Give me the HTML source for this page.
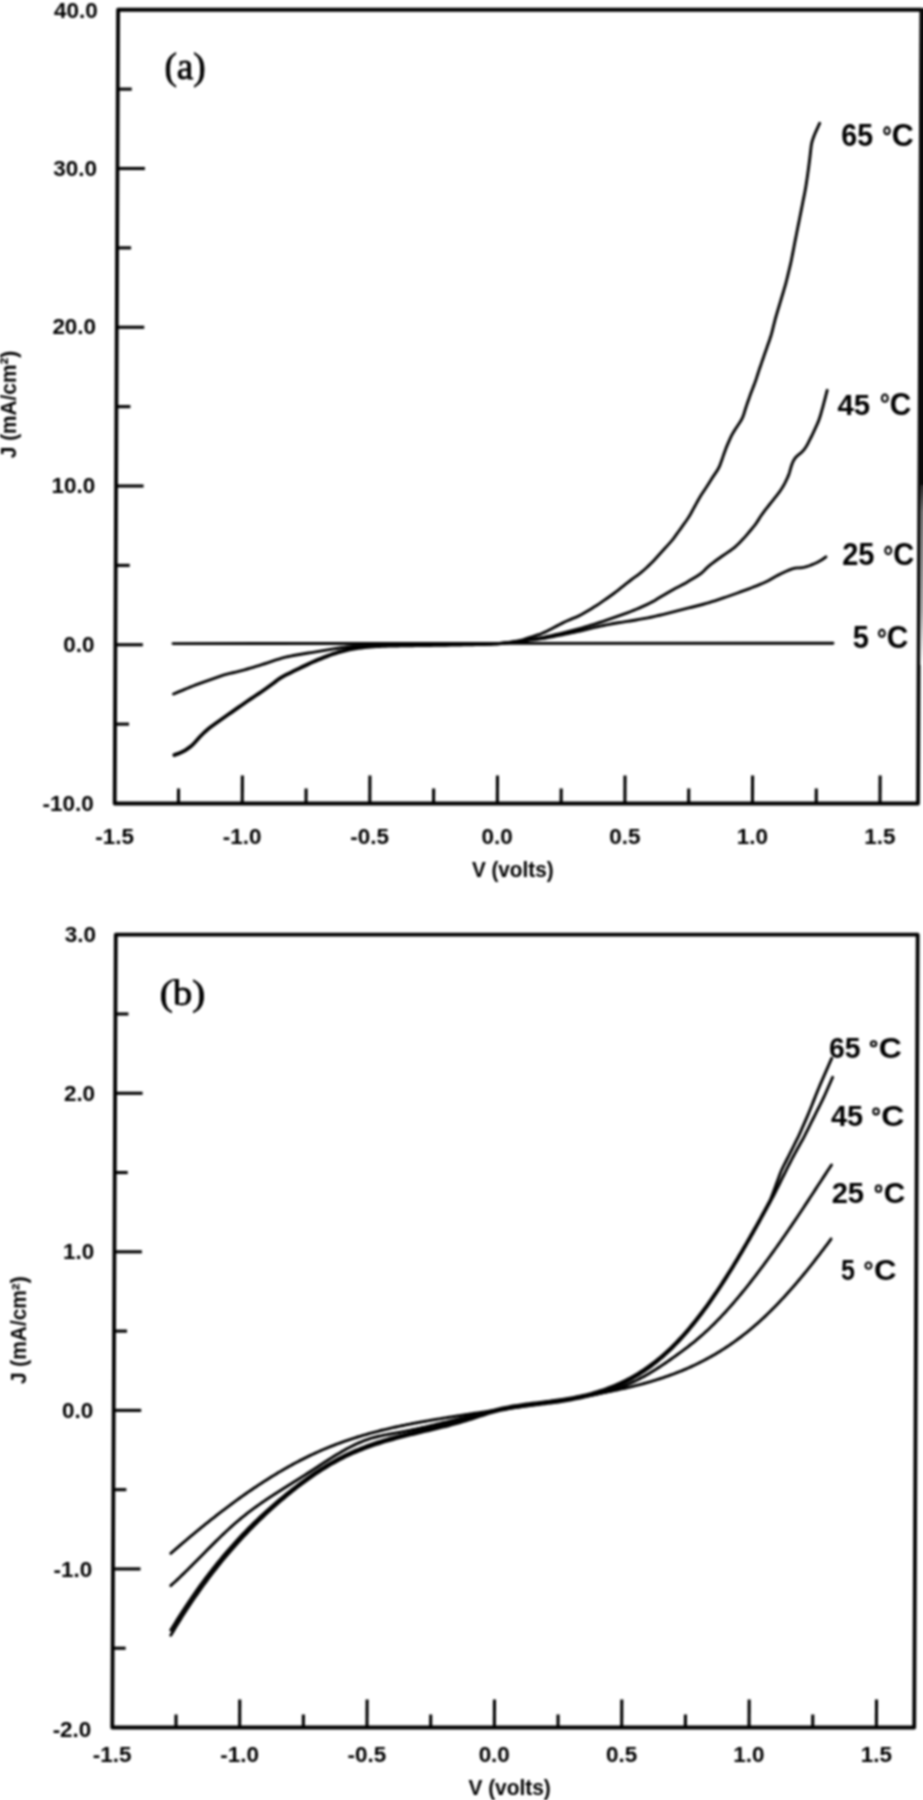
<!DOCTYPE html>
<html><head><meta charset="utf-8"><title>J-V curves</title>
<style>
html,body{margin:0;padding:0;background:#fff;}
body{width:923px;height:1800px;overflow:hidden;}
#clip{width:923px;height:1800px;overflow:hidden;position:relative;}
svg{display:block;}
#wrap{width:940px;height:1820px;filter:grayscale(1) blur(0.8px);}
text{font-family:"Liberation Sans",sans-serif;fill:#000;}
</style></head>
<body>
<div id="clip">
<div id="wrap">
<svg width="940" height="1820" viewBox="0 0 940 1820">
<rect width="940" height="1820" fill="#fff"/>
<g stroke="#000" stroke-linecap="butt" fill="none">
<polygon points="118.11,9.75 921.41,9.75 918.00,803.50 114.70,803.50" fill="none" stroke-width="3.8" stroke-linejoin="round"/>
<line x1="117.43" y1="168.50" x2="144.93" y2="168.50" stroke-width="3.1"/>
<line x1="116.75" y1="327.25" x2="144.25" y2="327.25" stroke-width="3.1"/>
<line x1="116.07" y1="486.00" x2="143.57" y2="486.00" stroke-width="3.1"/>
<line x1="115.38" y1="644.75" x2="142.88" y2="644.75" stroke-width="3.1"/>
<line x1="117.77" y1="89.12" x2="131.77" y2="89.12" stroke-width="3.1"/>
<line x1="117.09" y1="247.88" x2="131.09" y2="247.88" stroke-width="3.1"/>
<line x1="116.41" y1="406.62" x2="130.41" y2="406.62" stroke-width="3.1"/>
<line x1="115.72" y1="565.38" x2="129.72" y2="565.38" stroke-width="3.1"/>
<line x1="115.04" y1="724.12" x2="129.04" y2="724.12" stroke-width="3.1"/>
<line x1="242.25" y1="803.50" x2="242.37" y2="775.50" stroke-width="3.1"/>
<line x1="369.80" y1="803.50" x2="369.92" y2="775.50" stroke-width="3.1"/>
<line x1="497.35" y1="803.50" x2="497.47" y2="775.50" stroke-width="3.1"/>
<line x1="624.90" y1="803.50" x2="625.02" y2="775.50" stroke-width="3.1"/>
<line x1="752.45" y1="803.50" x2="752.57" y2="775.50" stroke-width="3.1"/>
<line x1="880.00" y1="803.50" x2="880.12" y2="775.50" stroke-width="3.1"/>
<line x1="178.47" y1="803.50" x2="178.54" y2="788.50" stroke-width="3.1"/>
<line x1="306.02" y1="803.50" x2="306.09" y2="788.50" stroke-width="3.1"/>
<line x1="433.57" y1="803.50" x2="433.64" y2="788.50" stroke-width="3.1"/>
<line x1="561.12" y1="803.50" x2="561.19" y2="788.50" stroke-width="3.1"/>
<line x1="688.68" y1="803.50" x2="688.74" y2="788.50" stroke-width="3.1"/>
<line x1="816.23" y1="803.50" x2="816.29" y2="788.50" stroke-width="3.1"/>
<defs><linearGradient id="rg" x1="0" y1="0" x2="0" y2="1"><stop offset="0" stop-color="#2a2a2a"/><stop offset="0.15" stop-color="#777"/><stop offset="0.7" stop-color="#b0b0b0"/><stop offset="1" stop-color="#fff"/></linearGradient></defs>
<polygon points="920.0,8 930,8 930,485 918.6,485 919.6,100" fill="#0a0a0a" stroke="none"/>
<rect x="920.2" y="485" width="9.8" height="180" fill="url(#rg)" stroke="none"/>
<polygon points="115.79,934.70 917.69,934.70 914.20,1727.50 112.30,1727.50" fill="none" stroke-width="3.8" stroke-linejoin="round"/>
<line x1="115.09" y1="1093.26" x2="142.59" y2="1093.26" stroke-width="3.1"/>
<line x1="114.39" y1="1251.82" x2="141.89" y2="1251.82" stroke-width="3.1"/>
<line x1="113.70" y1="1410.38" x2="141.20" y2="1410.38" stroke-width="3.1"/>
<line x1="113.00" y1="1568.94" x2="140.50" y2="1568.94" stroke-width="3.1"/>
<line x1="115.44" y1="1013.98" x2="128.44" y2="1013.98" stroke-width="3.1"/>
<line x1="114.74" y1="1172.54" x2="127.74" y2="1172.54" stroke-width="3.1"/>
<line x1="114.04" y1="1331.10" x2="127.04" y2="1331.10" stroke-width="3.1"/>
<line x1="113.35" y1="1489.66" x2="126.35" y2="1489.66" stroke-width="3.1"/>
<line x1="112.65" y1="1648.22" x2="125.65" y2="1648.22" stroke-width="3.1"/>
<line x1="239.65" y1="1727.50" x2="239.77" y2="1699.50" stroke-width="3.1"/>
<line x1="367.00" y1="1727.50" x2="367.12" y2="1699.50" stroke-width="3.1"/>
<line x1="494.35" y1="1727.50" x2="494.47" y2="1699.50" stroke-width="3.1"/>
<line x1="621.70" y1="1727.50" x2="621.82" y2="1699.50" stroke-width="3.1"/>
<line x1="749.05" y1="1727.50" x2="749.17" y2="1699.50" stroke-width="3.1"/>
<line x1="876.40" y1="1727.50" x2="876.52" y2="1699.50" stroke-width="3.1"/>
<line x1="175.97" y1="1727.50" x2="176.03" y2="1714.50" stroke-width="3.1"/>
<line x1="303.32" y1="1727.50" x2="303.38" y2="1714.50" stroke-width="3.1"/>
<line x1="430.68" y1="1727.50" x2="430.73" y2="1714.50" stroke-width="3.1"/>
<line x1="558.02" y1="1727.50" x2="558.08" y2="1714.50" stroke-width="3.1"/>
<line x1="685.37" y1="1727.50" x2="685.43" y2="1714.50" stroke-width="3.1"/>
<line x1="812.72" y1="1727.50" x2="812.78" y2="1714.50" stroke-width="3.1"/>
</g>
<g stroke="#000" fill="none" stroke-linecap="round" stroke-linejoin="round">
<path d="M173.00,643.60 L833.00,643.20" fill="none" stroke-width="2.9"/>
<path d="M173.50,694.00 L176.27,692.85 L179.05,691.69 L181.83,690.54 L184.60,689.40 L187.39,688.26 L190.17,687.14 L192.96,686.02 L195.76,684.92 L198.56,683.84 L201.38,682.79 L204.20,681.77 L207.03,680.76 L209.87,679.76 L212.70,678.77 L215.54,677.78 L218.38,676.81 L221.23,675.86 L224.10,674.97 L226.99,674.17 L229.90,673.44 L232.82,672.75 L235.75,672.06 L238.66,671.34 L241.57,670.58 L244.47,669.80 L247.36,668.99 L250.25,668.16 L253.13,667.32 L256.01,666.45 L258.88,665.57 L261.75,664.67 L264.61,663.75 L267.47,662.81 L270.32,661.87 L273.17,660.91 L276.02,659.97 L278.89,659.07 L281.77,658.22 L284.66,657.44 L287.58,656.71 L290.51,656.07 L293.45,655.49 L296.41,654.98 L299.38,654.48 L302.34,654.00 L305.31,653.52 L308.27,653.04 L311.24,652.56 L314.21,652.07 L317.17,651.59 L320.14,651.10 L323.10,650.61 L326.07,650.12 L329.03,649.63 L332.00,649.14 L334.96,648.66 L337.93,648.20 L340.90,647.77 L343.88,647.39 L346.87,647.04 L349.85,646.71 L352.84,646.39 L355.83,646.10 L358.82,645.85 L361.82,645.68 L364.82,645.58 L367.82,645.53 L370.83,645.49 L373.83,645.46 L376.84,645.43 L379.84,645.40 L382.84,645.37 L385.85,645.34 L388.85,645.31 L391.86,645.28 L394.86,645.25 L397.87,645.22 L400.87,645.19 L403.88,645.16 L406.88,645.13 L409.89,645.10 L412.89,645.07 L415.90,645.04 L418.90,645.01 L421.91,644.98 L424.91,644.95 L427.92,644.92 L430.92,644.89 L433.92,644.86 L436.93,644.83 L439.93,644.80 L442.94,644.77 L445.94,644.74 L448.95,644.70 L451.95,644.66 L454.96,644.62 L457.96,644.58 L460.97,644.53 L463.97,644.48 L466.98,644.44 L469.98,644.39 L472.98,644.34 L475.99,644.30 L478.99,644.25 L482.00,644.20 L485.00,644.15 L488.01,644.10 L491.01,644.02 L494.01,643.89 L497.00,643.69 L499.99,643.42 L502.98,643.12 L505.97,642.79 L508.96,642.46 L511.94,642.13 L514.93,641.80 L517.92,641.47 L520.90,641.13 L523.89,640.79 L526.87,640.46 L529.86,640.12 L532.84,639.78 L535.83,639.44 L538.81,639.07 L541.79,638.67 L544.75,638.20 L547.71,637.67 L550.66,637.10 L553.60,636.51 L556.55,635.91 L559.49,635.32 L562.44,634.72 L565.38,634.12 L568.32,633.51 L571.27,632.90 L574.21,632.29 L577.15,631.66 L580.08,631.00 L583.00,630.31 L585.92,629.59 L588.83,628.85 L591.75,628.12 L594.66,627.41 L597.59,626.74 L600.53,626.10 L603.47,625.50 L606.42,624.92 L609.37,624.35 L612.32,623.80 L615.28,623.28 L618.25,622.79 L621.21,622.33 L624.18,621.87 L627.15,621.42 L630.12,620.95 L633.09,620.47 L636.05,619.96 L639.01,619.44 L641.97,618.91 L644.92,618.37 L647.87,617.80 L650.82,617.21 L653.75,616.58 L656.69,615.92 L659.61,615.24 L662.54,614.55 L665.45,613.83 L668.37,613.10 L671.28,612.36 L674.19,611.62 L677.11,610.88 L680.02,610.14 L682.93,609.40 L685.85,608.67 L688.76,607.94 L691.68,607.22 L694.59,606.49 L697.51,605.76 L700.42,605.02 L703.32,604.25 L706.22,603.44 L709.10,602.59 L711.97,601.71 L714.83,600.81 L717.70,599.89 L720.55,598.95 L723.39,597.98 L726.23,597.00 L729.07,596.00 L731.90,595.00 L734.73,594.00 L737.57,593.00 L740.39,591.98 L743.22,590.95 L746.03,589.90 L748.84,588.83 L751.64,587.75 L754.44,586.66 L757.24,585.56 L760.02,584.44 L762.79,583.27 L765.52,582.04 L768.20,580.69 L770.81,579.23 L773.40,577.72 L776.00,576.24 L778.66,574.85 L781.36,573.56 L784.08,572.30 L786.79,571.03 L789.48,569.81 L792.19,568.80 L794.98,568.18 L797.83,567.92 L800.74,567.74 L803.65,567.38 L806.51,566.71 L809.32,565.75 L812.09,564.64 L814.85,563.47 L817.56,562.23 L820.19,560.84 L822.69,559.25 L825.11,557.50 L825.90,556.90" fill="none" stroke-width="2.9"/>
<path d="M174.00,755.60 L176.83,754.57 L179.64,753.52 L182.39,752.35 L185.01,750.93 L187.51,749.28 L189.94,747.53 L192.25,745.63 L194.37,743.52 L196.36,741.28 L198.36,739.03 L200.40,736.83 L202.49,734.68 L204.65,732.58 L206.88,730.58 L209.20,728.67 L211.57,726.82 L213.99,725.04 L216.44,723.29 L218.90,721.57 L221.37,719.84 L223.83,718.12 L226.29,716.39 L228.76,714.67 L231.22,712.95 L233.68,711.22 L236.15,709.50 L238.62,707.78 L241.09,706.06 L243.56,704.35 L246.03,702.64 L248.51,700.93 L250.99,699.24 L253.49,697.56 L255.99,695.90 L258.50,694.24 L261.00,692.57 L263.49,690.88 L265.94,689.14 L268.37,687.37 L270.79,685.59 L273.21,683.80 L275.61,681.99 L278.00,680.17 L280.44,678.46 L283.02,676.95 L285.69,675.58 L288.38,674.23 L291.07,672.89 L293.77,671.56 L296.47,670.23 L299.18,668.93 L301.89,667.64 L304.61,666.35 L307.33,665.07 L310.05,663.79 L312.78,662.53 L315.53,661.32 L318.31,660.17 L321.10,659.05 L323.89,657.93 L326.69,656.82 L329.49,655.73 L332.32,654.72 L335.18,653.80 L338.06,652.95 L340.95,652.11 L343.84,651.28 L346.74,650.49 L349.66,649.79 L352.61,649.25 L355.58,648.80 L358.56,648.37 L361.53,647.95 L364.51,647.55 L367.50,647.23 L370.50,646.99 L373.50,646.81 L376.50,646.63 L379.50,646.46 L382.50,646.31 L385.51,646.20 L388.51,646.13 L391.52,646.07 L394.53,646.02 L397.53,645.97 L400.54,645.92 L403.55,645.87 L406.55,645.82 L409.56,645.77 L412.57,645.72 L415.57,645.67 L418.58,645.62 L421.59,645.58 L424.59,645.53 L427.60,645.49 L430.61,645.44 L433.62,645.40 L436.62,645.35 L439.63,645.31 L442.64,645.26 L445.64,645.22 L448.65,645.17 L451.66,645.13 L454.66,645.08 L457.67,645.03 L460.68,644.98 L463.68,644.91 L466.69,644.85 L469.70,644.78 L472.70,644.71 L475.71,644.64 L478.71,644.57 L481.72,644.50 L484.73,644.43 L487.73,644.37 L490.74,644.29 L493.74,644.17 L496.74,643.97 L499.73,643.69 L502.72,643.38 L505.71,643.06 L508.70,642.72 L511.68,642.35 L514.66,641.91 L517.63,641.45 L520.60,640.98 L523.57,640.52 L526.54,640.05 L529.51,639.58 L532.48,639.11 L535.45,638.64 L538.42,638.17 L541.39,637.67 L544.34,637.12 L547.28,636.49 L550.22,635.84 L553.15,635.18 L556.08,634.51 L559.02,633.85 L561.95,633.18 L564.87,632.48 L567.79,631.75 L570.70,630.98 L573.60,630.21 L576.51,629.43 L579.40,628.63 L582.29,627.80 L585.18,626.94 L588.06,626.08 L590.94,625.21 L593.81,624.34 L596.68,623.44 L599.54,622.50 L602.38,621.52 L605.22,620.52 L608.06,619.53 L610.89,618.53 L613.73,617.54 L616.57,616.54 L619.41,615.54 L622.24,614.54 L625.08,613.54 L627.91,612.54 L630.73,611.50 L633.53,610.41 L636.31,609.26 L639.07,608.07 L641.83,606.86 L644.57,605.62 L647.30,604.37 L650.00,603.06 L652.65,601.64 L655.25,600.14 L657.84,598.60 L660.42,597.06 L663.00,595.52 L665.58,593.97 L668.15,592.42 L670.75,590.90 L673.37,589.43 L676.04,588.04 L678.72,586.69 L681.39,585.32 L684.04,583.89 L686.65,582.39 L689.23,580.86 L691.81,579.32 L694.38,577.76 L696.94,576.17 L699.46,574.55 L701.87,572.79 L704.05,570.78 L706.10,568.61 L708.24,566.53 L710.54,564.61 L712.92,562.78 L715.34,560.99 L717.78,559.24 L720.24,557.51 L722.70,555.79 L725.18,554.07 L727.66,552.37 L730.14,550.68 L732.59,548.94 L734.92,547.07 L737.13,545.04 L739.27,542.93 L741.38,540.79 L743.46,538.62 L745.46,536.38 L747.41,534.09 L749.35,531.79 L751.28,529.49 L753.20,527.17 L755.06,524.82 L756.80,522.37 L758.43,519.85 L760.04,517.32 L761.70,514.81 L763.46,512.38 L765.29,509.99 L767.13,507.62 L768.98,505.25 L770.84,502.88 L772.71,500.53 L774.59,498.18 L776.46,495.82 L778.31,493.45 L780.07,491.03 L781.74,488.53 L783.29,485.96 L784.73,483.32 L786.10,480.64 L787.41,477.94 L788.58,475.19 L789.54,472.35 L790.37,469.47 L791.19,466.58 L792.14,463.74 L793.33,461.01 L794.83,458.48 L796.75,456.30 L799.02,454.42 L801.32,452.53 L803.39,450.41 L805.22,448.06 L806.82,445.53 L808.24,442.89 L809.59,440.21 L810.94,437.52 L812.26,434.82 L813.55,432.10 L814.82,429.38 L816.08,426.65 L817.33,423.91 L818.50,421.15 L819.52,418.33 L820.40,415.46 L821.23,412.57 L822.05,409.67 L822.86,406.78 L823.65,403.88 L824.42,400.97 L825.18,398.06 L825.94,395.15 L826.70,392.24 L827.20,390.30" fill="none" stroke-width="2.9"/>
<path d="M174.00,754.60 L176.83,753.58 L179.64,752.53 L182.39,751.35 L185.00,749.93 L187.50,748.29 L189.93,746.53 L192.24,744.64 L194.36,742.53 L196.35,740.30 L198.34,738.05 L200.38,735.84 L202.48,733.69 L204.63,731.59 L206.86,729.59 L209.18,727.68 L211.55,725.84 L213.97,724.05 L216.42,722.31 L218.88,720.59 L221.34,718.86 L223.80,717.14 L226.26,715.42 L228.73,713.69 L231.19,711.97 L233.65,710.25 L236.11,708.52 L238.58,706.81 L241.05,705.09 L243.52,703.38 L245.99,701.67 L248.46,699.96 L250.94,698.27 L253.44,696.59 L255.94,694.93 L258.45,693.27 L260.95,691.61 L263.44,689.92 L265.89,688.18 L268.32,686.41 L270.73,684.63 L273.15,682.84 L275.55,681.03 L277.94,679.22 L280.38,677.50 L282.96,675.99 L285.62,674.61 L288.31,673.27 L291.00,671.93 L293.69,670.60 L296.39,669.27 L299.10,667.96 L301.81,666.67 L304.53,665.39 L307.25,664.11 L309.97,662.83 L312.70,661.57 L315.44,660.36 L318.22,659.21 L321.01,658.09 L323.80,656.97 L326.59,655.86 L329.39,654.77 L332.21,653.75 L335.07,652.83 L337.95,651.98 L340.84,651.15 L343.73,650.31 L346.62,649.51 L349.54,648.80 L352.48,648.23 L355.45,647.75 L358.42,647.29 L361.39,646.83 L364.36,646.40 L367.34,646.07 L370.34,645.85 L373.34,645.69 L376.34,645.55 L379.34,645.42 L382.35,645.30 L385.35,645.21 L388.35,645.16 L391.36,645.12 L394.37,645.08 L397.37,645.05 L400.38,645.02 L403.38,644.98 L406.39,644.95 L409.39,644.92 L412.40,644.88 L415.40,644.85 L418.41,644.82 L421.41,644.79 L424.42,644.76 L427.42,644.73 L430.43,644.70 L433.43,644.67 L436.44,644.64 L439.44,644.61 L442.45,644.58 L445.45,644.55 L448.46,644.52 L451.47,644.49 L454.47,644.46 L457.48,644.42 L460.48,644.38 L463.49,644.34 L466.49,644.29 L469.50,644.24 L472.50,644.19 L475.51,644.13 L478.51,644.08 L481.52,644.03 L484.52,643.98 L487.53,643.93 L490.53,643.87 L493.53,643.77 L496.53,643.60 L499.52,643.34 L502.51,643.05 L505.50,642.75 L508.49,642.42 L511.47,642.02 L514.43,641.51 L517.37,640.94 L520.31,640.30 L523.21,639.54 L526.08,638.67 L528.95,637.75 L531.80,636.83 L534.66,635.90 L537.52,634.97 L540.37,634.01 L543.16,632.94 L545.89,631.69 L548.56,630.33 L551.23,628.94 L553.89,627.54 L556.55,626.14 L559.21,624.74 L561.88,623.36 L564.57,622.03 L567.30,620.78 L570.07,619.61 L572.84,618.46 L575.61,617.30 L578.36,616.09 L581.04,614.76 L583.66,613.28 L586.24,611.75 L588.82,610.20 L591.39,608.65 L593.96,607.09 L596.51,605.51 L599.02,603.86 L601.50,602.15 L603.96,600.43 L606.42,598.70 L608.88,596.98 L611.34,595.25 L613.78,593.49 L616.18,591.69 L618.54,589.83 L620.89,587.96 L623.24,586.09 L625.59,584.21 L627.94,582.34 L630.31,580.49 L632.71,578.68 L635.15,576.94 L637.61,575.20 L640.00,573.40 L642.30,571.47 L644.54,569.47 L646.77,567.45 L648.97,565.41 L651.12,563.32 L653.20,561.15 L655.24,558.95 L657.28,556.73 L659.30,554.51 L661.33,552.30 L663.36,550.07 L665.38,547.85 L667.40,545.62 L669.41,543.39 L671.38,541.13 L673.27,538.80 L675.07,536.39 L676.83,533.96 L678.58,531.51 L680.33,529.07 L682.08,526.63 L683.83,524.18 L685.57,521.74 L687.30,519.28 L688.94,516.77 L690.47,514.18 L691.93,511.56 L693.37,508.92 L694.81,506.29 L696.26,503.65 L697.70,501.01 L699.18,498.40 L700.73,495.83 L702.36,493.31 L704.03,490.81 L705.70,488.31 L707.33,485.78 L708.91,483.23 L710.48,480.67 L712.09,478.13 L713.77,475.64 L715.46,473.16 L717.13,470.66 L718.64,468.09 L719.88,465.38 L720.93,462.58 L721.93,459.74 L722.91,456.90 L723.90,454.06 L724.90,451.23 L725.94,448.41 L727.07,445.63 L728.25,442.87 L729.46,440.12 L730.69,437.38 L732.02,434.69 L733.51,432.10 L735.13,429.57 L736.79,427.06 L738.46,424.56 L740.10,422.05 L741.62,419.48 L742.86,416.78 L743.86,413.96 L744.75,411.09 L745.65,408.23 L746.60,405.38 L747.58,402.53 L748.57,399.70 L749.57,396.86 L750.58,394.03 L751.63,391.22 L752.71,388.41 L753.80,385.61 L754.87,382.81 L755.88,379.98 L756.82,377.12 L757.74,374.26 L758.67,371.40 L759.62,368.55 L760.59,365.71 L761.57,362.87 L762.56,360.03 L763.54,357.19 L764.53,354.35 L765.52,351.51 L766.51,348.68 L767.50,345.84 L768.50,343.00 L769.49,340.17 L770.45,337.32 L771.33,334.45 L772.12,331.55 L772.85,328.64 L773.58,325.72 L774.31,322.81 L775.05,319.90 L775.84,317.00 L776.68,314.11 L777.54,311.23 L778.40,308.35 L779.27,305.47 L780.13,302.59 L780.99,299.72 L781.85,296.84 L782.72,293.96 L783.58,291.08 L784.43,288.20 L785.27,285.31 L786.07,282.41 L786.81,279.50 L787.52,276.58 L788.22,273.66 L788.92,270.74 L789.63,267.82 L790.32,264.89 L790.99,261.96 L791.60,259.02 L792.19,256.07 L792.76,253.12 L793.33,250.17 L793.90,247.22 L794.47,244.27 L795.04,241.32 L795.62,238.37 L796.20,235.42 L796.79,232.48 L797.38,229.53 L797.98,226.58 L798.57,223.64 L799.16,220.69 L799.75,217.74 L800.34,214.79 L800.92,211.85 L801.51,208.90 L802.09,205.95 L802.68,203.00 L803.26,200.06 L803.85,197.11 L804.44,194.16 L805.01,191.21 L805.56,188.26 L806.06,185.29 L806.51,182.32 L806.95,179.35 L807.39,176.38 L807.82,173.40 L808.23,170.42 L808.62,167.44 L809.00,164.46 L809.39,161.48 L809.76,158.50 L810.11,155.52 L810.44,152.53 L810.77,149.54 L811.12,146.56 L811.60,143.61 L812.35,140.72 L813.31,137.89 L814.38,135.08 L815.53,132.30 L816.75,129.56 L818.01,126.83 L819.28,124.11 L819.70,123.20" fill="none" stroke-width="2.9"/>
<path d="M170.80,1553.37 C171.13,1553.07 172.13,1552.20 172.80,1551.62 C173.47,1551.04 174.13,1550.46 174.80,1549.88 C175.47,1549.30 176.13,1548.72 176.80,1548.15 C177.47,1547.57 178.13,1547.00 178.80,1546.42 C179.47,1545.85 180.13,1545.28 180.80,1544.71 C181.47,1544.14 182.13,1543.57 182.80,1543.00 C183.47,1542.43 184.13,1541.86 184.80,1541.30 C185.47,1540.73 186.13,1540.16 186.80,1539.60 C187.47,1539.04 188.13,1538.48 188.80,1537.92 C189.47,1537.35 190.13,1536.80 190.80,1536.24 C191.47,1535.68 192.13,1535.12 192.80,1534.57 C193.47,1534.01 194.13,1533.46 194.80,1532.91 C195.47,1532.35 196.13,1531.80 196.80,1531.25 C197.47,1530.70 198.13,1530.16 198.80,1529.61 C199.47,1529.06 200.13,1528.52 200.80,1527.97 C201.47,1527.43 202.13,1526.89 202.80,1526.35 C203.47,1525.81 204.13,1525.27 204.80,1524.73 C205.47,1524.19 206.13,1523.66 206.80,1523.12 C207.47,1522.59 208.13,1522.05 208.80,1521.52 C209.47,1520.99 210.13,1520.46 210.80,1519.93 C211.47,1519.40 212.13,1518.88 212.80,1518.35 C213.47,1517.83 214.13,1517.30 214.80,1516.78 C215.47,1516.26 216.13,1515.74 216.80,1515.22 C217.47,1514.70 218.13,1514.18 218.80,1513.67 C219.47,1513.15 220.13,1512.64 220.80,1512.13 C221.47,1511.61 222.13,1511.10 222.80,1510.59 C223.47,1510.09 224.13,1509.58 224.80,1509.07 C225.47,1508.57 226.13,1508.06 226.80,1507.56 C227.47,1507.06 228.13,1506.56 228.80,1506.06 C229.47,1505.56 230.13,1505.07 230.80,1504.57 C231.47,1504.08 232.13,1503.59 232.80,1503.09 C233.47,1502.60 234.13,1502.11 234.80,1501.63 C235.47,1501.14 236.13,1500.65 236.80,1500.17 C237.47,1499.69 238.13,1499.20 238.80,1498.72 C239.47,1498.24 240.13,1497.77 240.80,1497.29 C241.47,1496.81 242.13,1496.34 242.80,1495.87 C243.47,1495.39 244.13,1494.92 244.80,1494.46 C245.47,1493.99 246.13,1493.52 246.80,1493.06 C247.47,1492.59 248.13,1492.13 248.80,1491.67 C249.47,1491.21 250.13,1490.75 250.80,1490.29 C251.47,1489.83 252.13,1489.38 252.80,1488.93 C253.47,1488.47 254.13,1488.02 254.80,1487.58 C255.47,1487.13 256.13,1486.68 256.80,1486.24 C257.47,1485.79 258.13,1485.35 258.80,1484.91 C259.47,1484.47 260.13,1484.03 260.80,1483.59 C261.47,1483.16 262.13,1482.72 262.80,1482.29 C263.47,1481.86 264.13,1481.43 264.80,1481.00 C265.47,1480.57 266.13,1480.15 266.80,1479.73 C267.47,1479.30 268.13,1478.88 268.80,1478.46 C269.47,1478.04 270.13,1477.63 270.80,1477.21 C271.47,1476.80 272.13,1476.39 272.80,1475.98 C273.47,1475.57 274.13,1475.16 274.80,1474.75 C275.47,1474.35 276.13,1473.94 276.80,1473.54 C277.47,1473.14 278.13,1472.74 278.80,1472.35 C279.47,1471.95 280.13,1471.56 280.80,1471.17 C281.47,1470.77 282.13,1470.38 282.80,1470.00 C283.47,1469.61 284.13,1469.23 284.80,1468.84 C285.47,1468.46 286.13,1468.08 286.80,1467.70 C287.47,1467.33 288.13,1466.95 288.80,1466.58 C289.47,1466.20 290.13,1465.83 290.80,1465.47 C291.47,1465.10 292.13,1464.73 292.80,1464.37 C293.47,1464.01 294.13,1463.65 294.80,1463.29 C295.47,1462.93 296.13,1462.57 296.80,1462.22 C297.47,1461.87 298.13,1461.52 298.80,1461.17 C299.47,1460.82 300.13,1460.47 300.80,1460.13 C301.47,1459.79 302.13,1459.45 302.80,1459.11 C303.47,1458.77 304.13,1458.44 304.80,1458.10 C305.47,1457.77 306.13,1457.44 306.80,1457.11 C307.47,1456.79 308.13,1456.46 308.80,1456.14 C309.47,1455.82 310.13,1455.50 310.80,1455.18 C311.47,1454.86 312.13,1454.55 312.80,1454.23 C313.47,1453.92 314.13,1453.61 314.80,1453.31 C315.47,1453.00 316.13,1452.70 316.80,1452.40 C317.47,1452.09 318.13,1451.80 318.80,1451.50 C319.47,1451.20 320.13,1450.91 320.80,1450.62 C321.47,1450.33 322.13,1450.04 322.80,1449.76 C323.47,1449.47 324.13,1449.19 324.80,1448.91 C325.47,1448.63 326.13,1448.35 326.80,1448.07 C327.47,1447.80 328.13,1447.53 328.80,1447.26 C329.47,1446.99 330.13,1446.72 330.80,1446.45 C331.47,1446.19 332.13,1445.92 332.80,1445.66 C333.47,1445.40 334.13,1445.15 334.80,1444.89 C335.47,1444.63 336.13,1444.38 336.80,1444.13 C337.47,1443.88 338.13,1443.63 338.80,1443.38 C339.47,1443.14 340.13,1442.89 340.80,1442.65 C341.47,1442.41 342.13,1442.17 342.80,1441.93 C343.47,1441.69 344.13,1441.46 344.80,1441.22 C345.47,1440.99 346.13,1440.76 346.80,1440.53 C347.47,1440.30 348.13,1440.08 348.80,1439.85 C349.47,1439.63 350.13,1439.40 350.80,1439.18 C351.47,1438.96 352.13,1438.75 352.80,1438.53 C353.47,1438.31 354.13,1438.10 354.80,1437.89 C355.47,1437.67 356.13,1437.46 356.80,1437.25 C357.47,1437.05 358.13,1436.84 358.80,1436.63 C359.47,1436.43 360.13,1436.23 360.80,1436.03 C361.47,1435.83 362.13,1435.63 362.80,1435.43 C363.47,1435.23 364.13,1435.04 364.80,1434.84 C365.47,1434.65 366.13,1434.46 366.80,1434.27 C367.47,1434.08 368.13,1433.89 368.80,1433.70 C369.47,1433.52 370.13,1433.33 370.80,1433.15 C371.47,1432.97 372.13,1432.79 372.80,1432.61 C373.47,1432.43 374.13,1432.25 374.80,1432.07 C375.47,1431.90 376.13,1431.72 376.80,1431.55 C377.47,1431.38 378.13,1431.20 378.80,1431.03 C379.47,1430.86 380.13,1430.70 380.80,1430.53 C381.47,1430.36 382.13,1430.20 382.80,1430.03 C383.47,1429.87 384.13,1429.71 384.80,1429.54 C385.47,1429.38 386.13,1429.22 386.80,1429.07 C387.47,1428.91 388.13,1428.75 388.80,1428.60 C389.47,1428.44 390.13,1428.29 390.80,1428.13 C391.47,1427.98 392.13,1427.83 392.80,1427.68 C393.47,1427.53 394.13,1427.38 394.80,1427.23 C395.47,1427.08 396.13,1426.94 396.80,1426.79 C397.47,1426.65 398.13,1426.50 398.80,1426.36 C399.47,1426.22 400.13,1426.08 400.80,1425.94 C401.47,1425.80 402.13,1425.66 402.80,1425.52 C403.47,1425.38 404.13,1425.24 404.80,1425.11 C405.47,1424.97 406.13,1424.84 406.80,1424.70 C407.47,1424.57 408.13,1424.44 408.80,1424.30 C409.47,1424.17 410.13,1424.04 410.80,1423.91 C411.47,1423.78 412.13,1423.65 412.80,1423.52 C413.47,1423.40 414.13,1423.27 414.80,1423.14 C415.47,1423.02 416.13,1422.89 416.80,1422.77 C417.47,1422.64 418.13,1422.52 418.80,1422.39 C419.47,1422.27 420.13,1422.15 420.80,1422.03 C421.47,1421.91 422.13,1421.79 422.80,1421.67 C423.47,1421.55 424.13,1421.43 424.80,1421.31 C425.47,1421.19 426.13,1421.07 426.80,1420.96 C427.47,1420.84 428.13,1420.72 428.80,1420.61 C429.47,1420.49 430.13,1420.38 430.80,1420.26 C431.47,1420.15 432.13,1420.03 432.80,1419.92 C433.47,1419.81 434.13,1419.69 434.80,1419.58 C435.47,1419.47 436.13,1419.36 436.80,1419.25 C437.47,1419.14 438.13,1419.03 438.80,1418.92 C439.47,1418.80 440.13,1418.69 440.80,1418.59 C441.47,1418.48 442.13,1418.37 442.80,1418.26 C443.47,1418.15 444.13,1418.04 444.80,1417.93 C445.47,1417.83 446.13,1417.72 446.80,1417.61 C447.47,1417.50 448.13,1417.40 448.80,1417.29 C449.47,1417.18 450.13,1417.08 450.80,1416.97 C451.47,1416.87 452.13,1416.76 452.80,1416.66 C453.47,1416.55 454.13,1416.45 454.80,1416.34 C455.47,1416.24 456.13,1416.13 456.80,1416.03 C457.47,1415.93 458.13,1415.82 458.80,1415.72 C459.47,1415.62 460.13,1415.51 460.80,1415.41 C461.47,1415.31 462.13,1415.21 462.80,1415.11 C463.47,1415.00 464.13,1414.90 464.80,1414.80 C465.47,1414.70 466.13,1414.60 466.80,1414.50 C467.47,1414.40 468.13,1414.29 468.80,1414.19 C469.47,1414.09 470.13,1413.99 470.80,1413.89 C471.47,1413.79 472.13,1413.69 472.80,1413.59 C473.47,1413.49 474.13,1413.39 474.80,1413.30 C475.47,1413.20 476.13,1413.10 476.80,1413.00 C477.47,1412.90 478.13,1412.80 478.80,1412.70 C479.47,1412.60 480.13,1412.50 480.80,1412.41 C481.47,1412.31 482.13,1412.21 482.80,1412.11 C483.47,1412.01 484.13,1411.92 484.80,1411.82 C485.47,1411.72 486.13,1411.62 486.80,1411.52 C487.47,1411.43 488.13,1411.33 488.80,1411.23 C489.47,1411.13 490.13,1411.04 490.80,1410.94 C491.47,1410.84 492.13,1410.75 492.80,1410.65 C493.47,1410.55 494.13,1410.45 494.80,1410.36 C495.47,1410.26 496.13,1410.16 496.80,1410.07 C497.47,1409.97 498.13,1409.87 498.80,1409.78 C499.47,1409.68 500.13,1409.58 500.80,1409.49 C501.47,1409.39 502.13,1409.29 502.80,1409.19 C503.47,1409.10 504.13,1409.00 504.80,1408.90 C505.47,1408.81 506.13,1408.71 506.80,1408.61 C507.47,1408.52 508.13,1408.42 508.80,1408.32 C509.47,1408.23 510.13,1408.13 510.80,1408.03 C511.47,1407.93 512.13,1407.84 512.80,1407.74 C513.47,1407.64 514.13,1407.54 514.80,1407.45 C515.47,1407.35 516.13,1407.25 516.80,1407.15 C517.47,1407.06 518.13,1406.96 518.80,1406.86 C519.47,1406.76 520.13,1406.67 520.80,1406.57 C521.47,1406.47 522.13,1406.37 522.80,1406.27 C523.47,1406.17 524.13,1406.08 524.80,1405.98 C525.47,1405.88 526.13,1405.78 526.80,1405.68 C527.47,1405.58 528.13,1405.48 528.80,1405.38 C529.47,1405.28 530.13,1405.18 530.80,1405.08 C531.47,1404.98 532.13,1404.88 532.80,1404.78 C533.47,1404.68 534.13,1404.58 534.80,1404.48 C535.47,1404.38 536.13,1404.28 536.80,1404.18 C537.47,1404.08 538.13,1403.98 538.80,1403.88 C539.47,1403.78 540.13,1403.67 540.80,1403.57 C541.47,1403.47 542.13,1403.37 542.80,1403.26 C543.47,1403.16 544.13,1403.06 544.80,1402.96 C545.47,1402.85 546.13,1402.75 546.80,1402.64 C547.47,1402.54 548.13,1402.44 548.80,1402.33 C549.47,1402.23 550.13,1402.12 550.80,1402.02 C551.47,1401.91 552.13,1401.81 552.80,1401.70 C553.47,1401.60 554.13,1401.49 554.80,1401.38 C555.47,1401.28 556.13,1401.17 556.80,1401.06 C557.47,1400.96 558.13,1400.85 558.80,1400.74 C559.47,1400.63 560.13,1400.52 560.80,1400.41 C561.47,1400.31 562.13,1400.20 562.80,1400.09 C563.47,1399.98 564.13,1399.87 564.80,1399.76 C565.47,1399.65 566.13,1399.53 566.80,1399.42 C567.47,1399.31 568.13,1399.20 568.80,1399.09 C569.47,1398.98 570.13,1398.86 570.80,1398.75 C571.47,1398.64 572.13,1398.52 572.80,1398.41 C573.47,1398.29 574.13,1398.18 574.80,1398.06 C575.47,1397.95 576.13,1397.83 576.80,1397.72 C577.47,1397.60 578.13,1397.48 578.80,1397.37 C579.47,1397.25 580.13,1397.13 580.80,1397.01 C581.47,1396.90 582.13,1396.78 582.80,1396.66 C583.47,1396.54 584.13,1396.42 584.80,1396.30 C585.47,1396.18 586.13,1396.06 586.80,1395.93 C587.47,1395.81 588.13,1395.69 588.80,1395.57 C589.47,1395.44 590.13,1395.32 590.80,1395.20 C591.47,1395.07 592.13,1394.95 592.80,1394.82 C593.47,1394.70 594.13,1394.57 594.80,1394.45 C595.47,1394.32 596.13,1394.19 596.80,1394.06 C597.47,1393.94 598.13,1393.81 598.80,1393.68 C599.47,1393.55 600.13,1393.42 600.80,1393.29 C601.47,1393.16 602.13,1393.03 602.80,1392.90 C603.47,1392.76 604.13,1392.63 604.80,1392.50 C605.47,1392.36 606.13,1392.23 606.80,1392.10 C607.47,1391.96 608.13,1391.83 608.80,1391.69 C609.47,1391.55 610.13,1391.42 610.80,1391.28 C611.47,1391.14 612.13,1391.00 612.80,1390.86 C613.47,1390.72 614.13,1390.58 614.80,1390.44 C615.47,1390.30 616.13,1390.16 616.80,1390.01 C617.47,1389.87 618.13,1389.73 618.80,1389.58 C619.47,1389.44 620.13,1389.29 620.80,1389.14 C621.47,1388.99 622.13,1388.85 622.80,1388.70 C623.47,1388.55 624.13,1388.39 624.80,1388.24 C625.47,1388.09 626.13,1387.94 626.80,1387.78 C627.47,1387.63 628.13,1387.47 628.80,1387.31 C629.47,1387.15 630.13,1386.99 630.80,1386.83 C631.47,1386.67 632.13,1386.51 632.80,1386.35 C633.47,1386.18 634.13,1386.02 634.80,1385.85 C635.47,1385.69 636.13,1385.52 636.80,1385.35 C637.47,1385.18 638.13,1385.01 638.80,1384.83 C639.47,1384.66 640.13,1384.49 640.80,1384.31 C641.47,1384.13 642.13,1383.96 642.80,1383.78 C643.47,1383.60 644.13,1383.41 644.80,1383.23 C645.47,1383.05 646.13,1382.86 646.80,1382.67 C647.47,1382.48 648.13,1382.30 648.80,1382.10 C649.47,1381.91 650.13,1381.72 650.80,1381.52 C651.47,1381.33 652.13,1381.13 652.80,1380.93 C653.47,1380.73 654.13,1380.53 654.80,1380.32 C655.47,1380.12 656.13,1379.91 656.80,1379.71 C657.47,1379.50 658.13,1379.29 658.80,1379.07 C659.47,1378.86 660.13,1378.64 660.80,1378.43 C661.47,1378.21 662.13,1377.99 662.80,1377.77 C663.47,1377.54 664.13,1377.32 664.80,1377.09 C665.47,1376.86 666.13,1376.63 666.80,1376.40 C667.47,1376.17 668.13,1375.93 668.80,1375.70 C669.47,1375.46 670.13,1375.22 670.80,1374.98 C671.47,1374.73 672.13,1374.49 672.80,1374.24 C673.47,1373.99 674.13,1373.74 674.80,1373.49 C675.47,1373.23 676.13,1372.97 676.80,1372.72 C677.47,1372.46 678.13,1372.19 678.80,1371.93 C679.47,1371.66 680.13,1371.39 680.80,1371.12 C681.47,1370.85 682.13,1370.58 682.80,1370.30 C683.47,1370.02 684.13,1369.74 684.80,1369.46 C685.47,1369.18 686.13,1368.89 686.80,1368.60 C687.47,1368.31 688.13,1368.02 688.80,1367.72 C689.47,1367.43 690.13,1367.13 690.80,1366.82 C691.47,1366.52 692.13,1366.21 692.80,1365.91 C693.47,1365.60 694.13,1365.28 694.80,1364.97 C695.47,1364.65 696.13,1364.33 696.80,1364.01 C697.47,1363.69 698.13,1363.36 698.80,1363.03 C699.47,1362.70 700.13,1362.37 700.80,1362.03 C701.47,1361.69 702.13,1361.35 702.80,1361.01 C703.47,1360.66 704.13,1360.32 704.80,1359.96 C705.47,1359.61 706.13,1359.26 706.80,1358.90 C707.47,1358.54 708.13,1358.18 708.80,1357.81 C709.47,1357.44 710.13,1357.07 710.80,1356.70 C711.47,1356.32 712.13,1355.94 712.80,1355.56 C713.47,1355.18 714.13,1354.79 714.80,1354.40 C715.47,1354.01 716.13,1353.62 716.80,1353.22 C717.47,1352.82 718.13,1352.42 718.80,1352.01 C719.47,1351.60 720.13,1351.19 720.80,1350.78 C721.47,1350.36 722.13,1349.94 722.80,1349.52 C723.47,1349.10 724.13,1348.67 724.80,1348.24 C725.47,1347.80 726.13,1347.37 726.80,1346.93 C727.47,1346.49 728.13,1346.04 728.80,1345.59 C729.47,1345.14 730.13,1344.69 730.80,1344.23 C731.47,1343.77 732.13,1343.30 732.80,1342.84 C733.47,1342.37 734.13,1341.90 734.80,1341.42 C735.47,1340.94 736.13,1340.46 736.80,1339.97 C737.47,1339.49 738.13,1339.00 738.80,1338.50 C739.47,1338.00 740.13,1337.50 740.80,1337.00 C741.47,1336.49 742.13,1335.98 742.80,1335.47 C743.47,1334.95 744.13,1334.43 744.80,1333.91 C745.47,1333.38 746.13,1332.85 746.80,1332.32 C747.47,1331.78 748.13,1331.24 748.80,1330.70 C749.47,1330.15 750.13,1329.60 750.80,1329.05 C751.47,1328.49 752.13,1327.93 752.80,1327.36 C753.47,1326.80 754.13,1326.23 754.80,1325.65 C755.47,1325.08 756.13,1324.49 756.80,1323.91 C757.47,1323.32 758.13,1322.73 758.80,1322.13 C759.47,1321.53 760.13,1320.93 760.80,1320.32 C761.47,1319.71 762.13,1319.10 762.80,1318.48 C763.47,1317.86 764.13,1317.24 764.80,1316.61 C765.47,1315.98 766.13,1315.34 766.80,1314.70 C767.47,1314.06 768.13,1313.42 768.80,1312.77 C769.47,1312.12 770.13,1311.46 770.80,1310.80 C771.47,1310.14 772.13,1309.48 772.80,1308.81 C773.47,1308.14 774.13,1307.46 774.80,1306.78 C775.47,1306.10 776.13,1305.41 776.80,1304.72 C777.47,1304.03 778.13,1303.34 778.80,1302.64 C779.47,1301.94 780.13,1301.23 780.80,1300.52 C781.47,1299.81 782.13,1299.10 782.80,1298.38 C783.47,1297.66 784.13,1296.94 784.80,1296.21 C785.47,1295.48 786.13,1294.75 786.80,1294.01 C787.47,1293.27 788.13,1292.53 788.80,1291.78 C789.47,1291.03 790.13,1290.28 790.80,1289.53 C791.47,1288.77 792.13,1288.01 792.80,1287.25 C793.47,1286.48 794.13,1285.71 794.80,1284.94 C795.47,1284.17 796.13,1283.39 796.80,1282.61 C797.47,1281.83 798.13,1281.04 798.80,1280.25 C799.47,1279.46 800.13,1278.67 800.80,1277.87 C801.47,1277.07 802.13,1276.27 802.80,1275.46 C803.47,1274.65 804.13,1273.84 804.80,1273.03 C805.47,1272.21 806.13,1271.39 806.80,1270.57 C807.47,1269.75 808.13,1268.92 808.80,1268.09 C809.47,1267.26 810.13,1266.43 810.80,1265.59 C811.47,1264.75 812.13,1263.91 812.80,1263.06 C813.47,1262.22 814.13,1261.37 814.80,1260.51 C815.47,1259.66 816.13,1258.80 816.80,1257.94 C817.47,1257.08 818.13,1256.22 818.80,1255.35 C819.47,1254.48 820.13,1253.61 820.80,1252.74 C821.47,1251.86 822.13,1250.99 822.80,1250.10 C823.47,1249.22 824.13,1248.34 824.80,1247.45 C825.47,1246.56 826.13,1245.67 826.80,1244.77 C827.47,1243.88 828.13,1242.98 828.80,1242.08 C829.47,1241.18 830.43,1239.86 830.80,1239.37 C831.17,1238.87 830.97,1239.14 831.00,1239.09" fill="none" stroke-width="2.9"/>
<path d="M170.80,1585.59 C171.13,1585.29 172.13,1584.40 172.80,1583.79 C173.47,1583.19 174.13,1582.58 174.80,1581.96 C175.47,1581.35 176.13,1580.73 176.80,1580.11 C177.47,1579.49 178.13,1578.86 178.80,1578.23 C179.47,1577.60 180.13,1576.96 180.80,1576.32 C181.47,1575.69 182.13,1575.04 182.80,1574.40 C183.47,1573.75 184.13,1573.11 184.80,1572.45 C185.47,1571.80 186.13,1571.15 186.80,1570.49 C187.47,1569.84 188.13,1569.18 188.80,1568.52 C189.47,1567.86 190.13,1567.19 190.80,1566.53 C191.47,1565.86 192.13,1565.19 192.80,1564.53 C193.47,1563.86 194.13,1563.19 194.80,1562.52 C195.47,1561.85 196.13,1561.17 196.80,1560.50 C197.47,1559.83 198.13,1559.15 198.80,1558.48 C199.47,1557.80 200.13,1557.13 200.80,1556.45 C201.47,1555.78 202.13,1555.10 202.80,1554.43 C203.47,1553.76 204.13,1553.08 204.80,1552.41 C205.47,1551.73 206.13,1551.06 206.80,1550.39 C207.47,1549.71 208.13,1549.04 208.80,1548.37 C209.47,1547.70 210.13,1547.03 210.80,1546.36 C211.47,1545.69 212.13,1545.03 212.80,1544.36 C213.47,1543.70 214.13,1543.04 214.80,1542.38 C215.47,1541.72 216.13,1541.06 216.80,1540.40 C217.47,1539.75 218.13,1539.09 218.80,1538.44 C219.47,1537.79 220.13,1537.15 220.80,1536.50 C221.47,1535.86 222.13,1535.22 222.80,1534.58 C223.47,1533.95 224.13,1533.31 224.80,1532.68 C225.47,1532.05 226.13,1531.43 226.80,1530.81 C227.47,1530.18 228.13,1529.57 228.80,1528.96 C229.47,1528.34 230.13,1527.74 230.80,1527.13 C231.47,1526.53 232.13,1525.93 232.80,1525.34 C233.47,1524.75 234.13,1524.16 234.80,1523.58 C235.47,1523.00 236.13,1522.42 236.80,1521.85 C237.47,1521.28 238.13,1520.72 238.80,1520.16 C239.47,1519.60 240.13,1519.04 240.80,1518.50 C241.47,1517.95 242.13,1517.40 242.80,1516.87 C243.47,1516.33 244.13,1515.80 244.80,1515.27 C245.47,1514.74 246.13,1514.22 246.80,1513.70 C247.47,1513.18 248.13,1512.67 248.80,1512.16 C249.47,1511.65 250.13,1511.14 250.80,1510.64 C251.47,1510.14 252.13,1509.64 252.80,1509.15 C253.47,1508.66 254.13,1508.17 254.80,1507.68 C255.47,1507.20 256.13,1506.72 256.80,1506.24 C257.47,1505.76 258.13,1505.29 258.80,1504.82 C259.47,1504.35 260.13,1503.88 260.80,1503.42 C261.47,1502.95 262.13,1502.49 262.80,1502.03 C263.47,1501.58 264.13,1501.12 264.80,1500.67 C265.47,1500.22 266.13,1499.77 266.80,1499.32 C267.47,1498.87 268.13,1498.43 268.80,1497.98 C269.47,1497.54 270.13,1497.10 270.80,1496.66 C271.47,1496.23 272.13,1495.79 272.80,1495.36 C273.47,1494.92 274.13,1494.49 274.80,1494.06 C275.47,1493.63 276.13,1493.20 276.80,1492.77 C277.47,1492.35 278.13,1491.92 278.80,1491.50 C279.47,1491.07 280.13,1490.65 280.80,1490.23 C281.47,1489.80 282.13,1489.38 282.80,1488.96 C283.47,1488.54 284.13,1488.12 284.80,1487.70 C285.47,1487.28 286.13,1486.87 286.80,1486.45 C287.47,1486.03 288.13,1485.61 288.80,1485.19 C289.47,1484.78 290.13,1484.36 290.80,1483.94 C291.47,1483.52 292.13,1483.11 292.80,1482.69 C293.47,1482.27 294.13,1481.85 294.80,1481.44 C295.47,1481.02 296.13,1480.60 296.80,1480.18 C297.47,1479.76 298.13,1479.34 298.80,1478.92 C299.47,1478.50 300.13,1478.07 300.80,1477.65 C301.47,1477.23 302.13,1476.80 302.80,1476.38 C303.47,1475.95 304.13,1475.53 304.80,1475.10 C305.47,1474.67 306.13,1474.24 306.80,1473.81 C307.47,1473.38 308.13,1472.95 308.80,1472.51 C309.47,1472.08 310.13,1471.65 310.80,1471.21 C311.47,1470.78 312.13,1470.34 312.80,1469.90 C313.47,1469.47 314.13,1469.03 314.80,1468.60 C315.47,1468.16 316.13,1467.72 316.80,1467.29 C317.47,1466.85 318.13,1466.41 318.80,1465.98 C319.47,1465.54 320.13,1465.11 320.80,1464.67 C321.47,1464.24 322.13,1463.81 322.80,1463.38 C323.47,1462.94 324.13,1462.51 324.80,1462.08 C325.47,1461.65 326.13,1461.22 326.80,1460.80 C327.47,1460.37 328.13,1459.95 328.80,1459.52 C329.47,1459.10 330.13,1458.68 330.80,1458.26 C331.47,1457.85 332.13,1457.43 332.80,1457.02 C333.47,1456.60 334.13,1456.19 334.80,1455.79 C335.47,1455.38 336.13,1454.97 336.80,1454.57 C337.47,1454.17 338.13,1453.77 338.80,1453.38 C339.47,1452.98 340.13,1452.59 340.80,1452.20 C341.47,1451.82 342.13,1451.43 342.80,1451.05 C343.47,1450.68 344.13,1450.30 344.80,1449.93 C345.47,1449.56 346.13,1449.19 346.80,1448.83 C347.47,1448.47 348.13,1448.11 348.80,1447.76 C349.47,1447.41 350.13,1447.06 350.80,1446.72 C351.47,1446.38 352.13,1446.04 352.80,1445.71 C353.47,1445.38 354.13,1445.06 354.80,1444.74 C355.47,1444.42 356.13,1444.11 356.80,1443.80 C357.47,1443.50 358.13,1443.20 358.80,1442.90 C359.47,1442.61 360.13,1442.32 360.80,1442.04 C361.47,1441.76 362.13,1441.49 362.80,1441.22 C363.47,1440.95 364.13,1440.70 364.80,1440.44 C365.47,1440.19 366.13,1439.95 366.80,1439.71 C367.47,1439.48 368.13,1439.25 368.80,1439.03 C369.47,1438.81 370.13,1438.59 370.80,1438.39 C371.47,1438.18 372.13,1437.99 372.80,1437.79 C373.47,1437.60 374.13,1437.42 374.80,1437.24 C375.47,1437.07 376.13,1436.89 376.80,1436.73 C377.47,1436.56 378.13,1436.40 378.80,1436.25 C379.47,1436.09 380.13,1435.94 380.80,1435.80 C381.47,1435.65 382.13,1435.51 382.80,1435.37 C383.47,1435.23 384.13,1435.10 384.80,1434.97 C385.47,1434.84 386.13,1434.71 386.80,1434.59 C387.47,1434.46 388.13,1434.34 388.80,1434.22 C389.47,1434.09 390.13,1433.98 390.80,1433.86 C391.47,1433.74 392.13,1433.62 392.80,1433.51 C393.47,1433.39 394.13,1433.27 394.80,1433.16 C395.47,1433.04 396.13,1432.93 396.80,1432.81 C397.47,1432.69 398.13,1432.57 398.80,1432.45 C399.47,1432.34 400.13,1432.21 400.80,1432.09 C401.47,1431.97 402.13,1431.85 402.80,1431.72 C403.47,1431.60 404.13,1431.47 404.80,1431.34 C405.47,1431.21 406.13,1431.08 406.80,1430.95 C407.47,1430.82 408.13,1430.68 408.80,1430.55 C409.47,1430.41 410.13,1430.28 410.80,1430.14 C411.47,1430.00 412.13,1429.86 412.80,1429.72 C413.47,1429.58 414.13,1429.44 414.80,1429.30 C415.47,1429.15 416.13,1429.01 416.80,1428.86 C417.47,1428.72 418.13,1428.57 418.80,1428.42 C419.47,1428.28 420.13,1428.13 420.80,1427.98 C421.47,1427.83 422.13,1427.68 422.80,1427.53 C423.47,1427.38 424.13,1427.22 424.80,1427.07 C425.47,1426.92 426.13,1426.76 426.80,1426.61 C427.47,1426.45 428.13,1426.30 428.80,1426.14 C429.47,1425.98 430.13,1425.83 430.80,1425.67 C431.47,1425.51 432.13,1425.35 432.80,1425.19 C433.47,1425.04 434.13,1424.88 434.80,1424.72 C435.47,1424.56 436.13,1424.40 436.80,1424.23 C437.47,1424.07 438.13,1423.91 438.80,1423.75 C439.47,1423.59 440.13,1423.43 440.80,1423.26 C441.47,1423.10 442.13,1422.94 442.80,1422.78 C443.47,1422.61 444.13,1422.45 444.80,1422.29 C445.47,1422.13 446.13,1421.96 446.80,1421.80 C447.47,1421.64 448.13,1421.47 448.80,1421.31 C449.47,1421.15 450.13,1420.98 450.80,1420.82 C451.47,1420.66 452.13,1420.49 452.80,1420.33 C453.47,1420.17 454.13,1420.00 454.80,1419.84 C455.47,1419.68 456.13,1419.52 456.80,1419.35 C457.47,1419.19 458.13,1419.03 458.80,1418.87 C459.47,1418.71 460.13,1418.55 460.80,1418.39 C461.47,1418.23 462.13,1418.07 462.80,1417.91 C463.47,1417.75 464.13,1417.59 464.80,1417.43 C465.47,1417.27 466.13,1417.11 466.80,1416.96 C467.47,1416.80 468.13,1416.64 468.80,1416.49 C469.47,1416.33 470.13,1416.18 470.80,1416.02 C471.47,1415.87 472.13,1415.71 472.80,1415.56 C473.47,1415.41 474.13,1415.26 474.80,1415.11 C475.47,1414.96 476.13,1414.81 476.80,1414.66 C477.47,1414.51 478.13,1414.36 478.80,1414.21 C479.47,1414.06 480.13,1413.92 480.80,1413.77 C481.47,1413.62 482.13,1413.48 482.80,1413.33 C483.47,1413.19 484.13,1413.04 484.80,1412.90 C485.47,1412.76 486.13,1412.62 486.80,1412.47 C487.47,1412.33 488.13,1412.19 488.80,1412.05 C489.47,1411.91 490.13,1411.77 490.80,1411.63 C491.47,1411.50 492.13,1411.36 492.80,1411.22 C493.47,1411.08 494.13,1410.95 494.80,1410.81 C495.47,1410.68 496.13,1410.54 496.80,1410.41 C497.47,1410.28 498.13,1410.14 498.80,1410.01 C499.47,1409.88 500.13,1409.75 500.80,1409.62 C501.47,1409.49 502.13,1409.36 502.80,1409.23 C503.47,1409.10 504.13,1408.97 504.80,1408.84 C505.47,1408.72 506.13,1408.59 506.80,1408.46 C507.47,1408.34 508.13,1408.21 508.80,1408.09 C509.47,1407.96 510.13,1407.84 510.80,1407.72 C511.47,1407.60 512.13,1407.47 512.80,1407.35 C513.47,1407.23 514.13,1407.11 514.80,1406.99 C515.47,1406.87 516.13,1406.75 516.80,1406.64 C517.47,1406.52 518.13,1406.40 518.80,1406.29 C519.47,1406.17 520.13,1406.05 520.80,1405.94 C521.47,1405.82 522.13,1405.71 522.80,1405.60 C523.47,1405.48 524.13,1405.37 524.80,1405.26 C525.47,1405.15 526.13,1405.04 526.80,1404.93 C527.47,1404.82 528.13,1404.71 528.80,1404.60 C529.47,1404.49 530.13,1404.38 530.80,1404.28 C531.47,1404.17 532.13,1404.06 532.80,1403.96 C533.47,1403.85 534.13,1403.75 534.80,1403.65 C535.47,1403.54 536.13,1403.44 536.80,1403.34 C537.47,1403.23 538.13,1403.13 538.80,1403.03 C539.47,1402.93 540.13,1402.83 540.80,1402.73 C541.47,1402.63 542.13,1402.54 542.80,1402.44 C543.47,1402.34 544.13,1402.25 544.80,1402.15 C545.47,1402.05 546.13,1401.96 546.80,1401.86 C547.47,1401.77 548.13,1401.68 548.80,1401.58 C549.47,1401.49 550.13,1401.40 550.80,1401.31 C551.47,1401.22 552.13,1401.13 552.80,1401.04 C553.47,1400.95 554.13,1400.86 554.80,1400.77 C555.47,1400.68 556.13,1400.59 556.80,1400.50 C557.47,1400.42 558.13,1400.33 558.80,1400.24 C559.47,1400.15 560.13,1400.06 560.80,1399.98 C561.47,1399.89 562.13,1399.80 562.80,1399.71 C563.47,1399.62 564.13,1399.53 564.80,1399.45 C565.47,1399.36 566.13,1399.27 566.80,1399.18 C567.47,1399.09 568.13,1399.00 568.80,1398.90 C569.47,1398.81 570.13,1398.72 570.80,1398.63 C571.47,1398.53 572.13,1398.44 572.80,1398.34 C573.47,1398.25 574.13,1398.15 574.80,1398.05 C575.47,1397.95 576.13,1397.86 576.80,1397.75 C577.47,1397.65 578.13,1397.55 578.80,1397.45 C579.47,1397.34 580.13,1397.24 580.80,1397.13 C581.47,1397.02 582.13,1396.92 582.80,1396.80 C583.47,1396.69 584.13,1396.58 584.80,1396.46 C585.47,1396.35 586.13,1396.23 586.80,1396.11 C587.47,1395.99 588.13,1395.87 588.80,1395.75 C589.47,1395.62 590.13,1395.50 590.80,1395.37 C591.47,1395.24 592.13,1395.10 592.80,1394.97 C593.47,1394.83 594.13,1394.70 594.80,1394.56 C595.47,1394.42 596.13,1394.27 596.80,1394.13 C597.47,1393.98 598.13,1393.83 598.80,1393.68 C599.47,1393.52 600.13,1393.37 600.80,1393.20 C601.47,1393.04 602.13,1392.88 602.80,1392.71 C603.47,1392.55 604.13,1392.38 604.80,1392.20 C605.47,1392.03 606.13,1391.85 606.80,1391.67 C607.47,1391.48 608.13,1391.30 608.80,1391.11 C609.47,1390.91 610.13,1390.72 610.80,1390.52 C611.47,1390.32 612.13,1390.12 612.80,1389.91 C613.47,1389.70 614.13,1389.49 614.80,1389.27 C615.47,1389.05 616.13,1388.83 616.80,1388.61 C617.47,1388.38 618.13,1388.15 618.80,1387.91 C619.47,1387.67 620.13,1387.43 620.80,1387.19 C621.47,1386.94 622.13,1386.69 622.80,1386.43 C623.47,1386.17 624.13,1385.91 624.80,1385.64 C625.47,1385.37 626.13,1385.10 626.80,1384.82 C627.47,1384.54 628.13,1384.26 628.80,1383.97 C629.47,1383.68 630.13,1383.38 630.80,1383.08 C631.47,1382.78 632.13,1382.47 632.80,1382.15 C633.47,1381.84 634.13,1381.52 634.80,1381.20 C635.47,1380.87 636.13,1380.54 636.80,1380.21 C637.47,1379.87 638.13,1379.53 638.80,1379.18 C639.47,1378.84 640.13,1378.49 640.80,1378.13 C641.47,1377.78 642.13,1377.42 642.80,1377.05 C643.47,1376.69 644.13,1376.31 644.80,1375.94 C645.47,1375.57 646.13,1375.19 646.80,1374.80 C647.47,1374.42 648.13,1374.03 648.80,1373.64 C649.47,1373.24 650.13,1372.85 650.80,1372.45 C651.47,1372.04 652.13,1371.64 652.80,1371.23 C653.47,1370.82 654.13,1370.41 654.80,1369.99 C655.47,1369.57 656.13,1369.15 656.80,1368.73 C657.47,1368.30 658.13,1367.87 658.80,1367.44 C659.47,1367.01 660.13,1366.57 660.80,1366.13 C661.47,1365.69 662.13,1365.25 662.80,1364.80 C663.47,1364.36 664.13,1363.91 664.80,1363.46 C665.47,1363.01 666.13,1362.55 666.80,1362.09 C667.47,1361.63 668.13,1361.17 668.80,1360.71 C669.47,1360.25 670.13,1359.78 670.80,1359.31 C671.47,1358.84 672.13,1358.37 672.80,1357.89 C673.47,1357.42 674.13,1356.94 674.80,1356.46 C675.47,1355.99 676.13,1355.50 676.80,1355.02 C677.47,1354.54 678.13,1354.05 678.80,1353.56 C679.47,1353.08 680.13,1352.59 680.80,1352.09 C681.47,1351.60 682.13,1351.11 682.80,1350.61 C683.47,1350.11 684.13,1349.61 684.80,1349.11 C685.47,1348.61 686.13,1348.10 686.80,1347.59 C687.47,1347.08 688.13,1346.57 688.80,1346.05 C689.47,1345.53 690.13,1345.01 690.80,1344.48 C691.47,1343.96 692.13,1343.43 692.80,1342.89 C693.47,1342.36 694.13,1341.82 694.80,1341.27 C695.47,1340.73 696.13,1340.18 696.80,1339.62 C697.47,1339.07 698.13,1338.51 698.80,1337.94 C699.47,1337.37 700.13,1336.80 700.80,1336.22 C701.47,1335.64 702.13,1335.06 702.80,1334.46 C703.47,1333.87 704.13,1333.27 704.80,1332.67 C705.47,1332.06 706.13,1331.45 706.80,1330.83 C707.47,1330.21 708.13,1329.59 708.80,1328.96 C709.47,1328.33 710.13,1327.69 710.80,1327.05 C711.47,1326.40 712.13,1325.75 712.80,1325.10 C713.47,1324.44 714.13,1323.78 714.80,1323.11 C715.47,1322.44 716.13,1321.77 716.80,1321.09 C717.47,1320.41 718.13,1319.72 718.80,1319.03 C719.47,1318.34 720.13,1317.64 720.80,1316.94 C721.47,1316.23 722.13,1315.52 722.80,1314.81 C723.47,1314.09 724.13,1313.37 724.80,1312.65 C725.47,1311.92 726.13,1311.19 726.80,1310.45 C727.47,1309.72 728.13,1308.97 728.80,1308.23 C729.47,1307.48 730.13,1306.72 730.80,1305.97 C731.47,1305.21 732.13,1304.45 732.80,1303.68 C733.47,1302.91 734.13,1302.14 734.80,1301.36 C735.47,1300.58 736.13,1299.79 736.80,1299.01 C737.47,1298.22 738.13,1297.42 738.80,1296.63 C739.47,1295.83 740.13,1295.03 740.80,1294.22 C741.47,1293.41 742.13,1292.60 742.80,1291.78 C743.47,1290.97 744.13,1290.14 744.80,1289.32 C745.47,1288.49 746.13,1287.66 746.80,1286.83 C747.47,1285.99 748.13,1285.15 748.80,1284.31 C749.47,1283.47 750.13,1282.62 750.80,1281.77 C751.47,1280.92 752.13,1280.06 752.80,1279.20 C753.47,1278.34 754.13,1277.48 754.80,1276.61 C755.47,1275.74 756.13,1274.87 756.80,1274.00 C757.47,1273.12 758.13,1272.24 758.80,1271.36 C759.47,1270.48 760.13,1269.59 760.80,1268.70 C761.47,1267.81 762.13,1266.92 762.80,1266.02 C763.47,1265.12 764.13,1264.22 764.80,1263.32 C765.47,1262.41 766.13,1261.51 766.80,1260.60 C767.47,1259.69 768.13,1258.77 768.80,1257.86 C769.47,1256.94 770.13,1256.02 770.80,1255.10 C771.47,1254.17 772.13,1253.25 772.80,1252.32 C773.47,1251.39 774.13,1250.46 774.80,1249.53 C775.47,1248.59 776.13,1247.65 776.80,1246.72 C777.47,1245.78 778.13,1244.83 778.80,1243.89 C779.47,1242.94 780.13,1242.00 780.80,1241.05 C781.47,1240.10 782.13,1239.14 782.80,1238.19 C783.47,1237.23 784.13,1236.27 784.80,1235.31 C785.47,1234.35 786.13,1233.39 786.80,1232.42 C787.47,1231.45 788.13,1230.48 788.80,1229.51 C789.47,1228.54 790.13,1227.57 790.80,1226.59 C791.47,1225.61 792.13,1224.63 792.80,1223.65 C793.47,1222.66 794.13,1221.68 794.80,1220.69 C795.47,1219.70 796.13,1218.71 796.80,1217.71 C797.47,1216.72 798.13,1215.72 798.80,1214.72 C799.47,1213.72 800.13,1212.72 800.80,1211.72 C801.47,1210.71 802.13,1209.70 802.80,1208.70 C803.47,1207.69 804.13,1206.68 804.80,1205.67 C805.47,1204.65 806.13,1203.64 806.80,1202.62 C807.47,1201.61 808.13,1200.59 808.80,1199.58 C809.47,1198.56 810.13,1197.54 810.80,1196.52 C811.47,1195.50 812.13,1194.48 812.80,1193.46 C813.47,1192.44 814.13,1191.42 814.80,1190.40 C815.47,1189.38 816.13,1188.35 816.80,1187.33 C817.47,1186.31 818.13,1185.29 818.80,1184.27 C819.47,1183.25 820.13,1182.23 820.80,1181.21 C821.47,1180.19 822.13,1179.17 822.80,1178.15 C823.47,1177.14 824.13,1176.12 824.80,1175.10 C825.47,1174.09 826.13,1173.07 826.80,1172.06 C827.47,1171.05 828.13,1170.04 828.80,1169.03 C829.47,1168.02 830.35,1166.68 830.80,1166.00 C831.25,1165.32 831.38,1165.13 831.50,1164.95" fill="none" stroke-width="2.9"/>
<path d="M170.80,1635.30 L172.34,1632.72 L173.89,1630.14 L175.44,1627.57 L177.01,1625.00 L178.59,1622.44 L180.18,1619.89 L181.78,1617.35 L183.40,1614.81 L185.02,1612.28 L186.66,1609.76 L188.31,1607.25 L189.97,1604.74 L191.64,1602.24 L193.33,1599.75 L195.03,1597.27 L196.74,1594.80 L198.46,1592.34 L200.20,1589.88 L201.95,1587.44 L203.71,1585.00 L205.49,1582.58 L207.28,1580.16 L209.08,1577.75 L210.89,1575.36 L212.72,1572.97 L214.56,1570.59 L216.42,1568.23 L218.29,1565.87 L220.17,1563.53 L222.07,1561.20 L223.98,1558.88 L225.90,1556.57 L227.84,1554.27 L229.79,1551.98 L231.76,1549.71 L233.74,1547.45 L235.73,1545.20 L237.74,1542.96 L239.76,1540.73 L241.80,1538.52 L243.85,1536.32 L245.92,1534.14 L247.99,1531.97 L250.09,1529.81 L252.19,1527.66 L254.31,1525.53 L256.44,1523.41 L258.59,1521.30 L260.75,1519.21 L262.92,1517.14 L265.11,1515.07 L267.31,1513.02 L269.52,1510.99 L271.75,1508.97 L273.99,1506.96 L276.24,1504.97 L278.50,1502.99 L280.77,1501.02 L283.06,1499.07 L285.36,1497.13 L287.67,1495.21 L289.99,1493.30 L292.33,1491.40 L294.67,1489.53 L297.04,1487.67 L299.41,1485.83 L301.81,1484.01 L304.23,1482.22 L306.66,1480.46 L309.11,1478.71 L311.57,1476.99 L314.05,1475.28 L316.54,1473.61 L319.05,1471.95 L321.58,1470.33 L324.13,1468.73 L326.69,1467.16 L329.27,1465.62 L331.87,1464.11 L334.49,1462.63 L337.13,1461.19 L339.78,1459.78 L342.46,1458.41 L345.15,1457.07 L347.86,1455.77 L350.59,1454.51 L353.34,1453.29 L356.10,1452.10 L358.87,1450.94 L361.66,1449.82 L364.47,1448.73 L367.28,1447.68 L370.11,1446.66 L372.95,1445.67 L375.80,1444.70 L378.65,1443.77 L381.52,1442.86 L384.39,1441.98 L387.28,1441.13 L390.16,1440.29 L393.06,1439.48 L395.96,1438.69 L398.86,1437.91 L401.77,1437.15 L404.69,1436.41 L407.60,1435.68 L410.52,1434.96 L413.44,1434.25 L416.37,1433.54 L419.29,1432.84 L422.21,1432.15 L425.14,1431.45 L428.06,1430.76 L430.99,1430.06 L433.91,1429.36 L436.84,1428.65 L439.76,1427.94 L442.67,1427.21 L445.59,1426.48 L448.50,1425.73 L451.41,1424.96 L454.31,1424.17 L457.21,1423.37 L460.10,1422.55 L462.98,1421.70 L465.86,1420.83 L468.73,1419.94 L471.59,1419.02 L474.45,1418.08 L477.30,1417.13 L480.15,1416.19 L483.01,1415.25 L485.88,1414.34 L488.75,1413.47 L491.64,1412.64 L494.55,1411.86 L497.46,1411.13 L500.39,1410.45 L503.33,1409.81 L506.28,1409.22 L509.23,1408.66 L512.19,1408.14 L515.16,1407.66 L518.13,1407.20 L521.10,1406.76 L524.08,1406.35 L527.06,1405.96 L530.05,1405.58 L533.03,1405.21 L536.01,1404.85 L539.00,1404.49 L541.98,1404.13 L544.97,1403.76 L547.95,1403.39 L550.93,1403.01 L553.91,1402.61 L556.89,1402.19 L559.86,1401.75 L562.84,1401.30 L565.80,1400.81 L568.77,1400.31 L571.72,1399.77 L574.68,1399.20 L577.62,1398.60 L580.56,1397.97 L583.49,1397.30 L586.42,1396.60 L589.33,1395.85 L592.23,1395.07 L595.12,1394.24 L598.00,1393.37 L600.86,1392.46 L603.71,1391.50 L606.54,1390.50 L609.36,1389.44 L612.16,1388.35 L614.94,1387.20 L617.70,1386.01 L620.43,1384.76 L623.15,1383.47 L625.84,1382.14 L628.51,1380.75 L631.15,1379.32 L633.77,1377.84 L636.36,1376.32 L638.93,1374.75 L641.46,1373.13 L643.97,1371.48 L646.45,1369.78 L648.90,1368.04 L651.32,1366.25 L653.71,1364.43 L656.08,1362.58 L658.41,1360.68 L660.71,1358.75 L662.99,1356.78 L665.23,1354.78 L667.45,1352.75 L669.64,1350.69 L671.80,1348.60 L673.93,1346.48 L676.03,1344.33 L678.11,1342.16 L680.17,1339.97 L682.20,1337.75 L684.20,1335.51 L686.19,1333.25 L688.15,1330.97 L690.09,1328.68 L692.01,1326.36 L693.90,1324.03 L695.78,1321.68 L697.64,1319.32 L699.48,1316.94 L701.30,1314.55 L703.11,1312.15 L704.89,1309.73 L706.66,1307.30 L708.42,1304.86 L710.15,1302.40 L711.88,1299.94 L713.59,1297.46 L715.28,1294.98 L716.96,1292.49 L718.63,1289.99 L720.29,1287.48 L721.93,1284.96 L723.56,1282.44 L725.18,1279.91 L726.80,1277.37 L728.40,1274.82 L729.99,1272.27 L731.57,1269.71 L733.14,1267.15 L734.71,1264.58 L736.26,1262.01 L737.81,1259.43 L739.35,1256.85 L740.88,1254.26 L742.40,1251.67 L743.92,1249.08 L745.43,1246.48 L746.94,1243.88 L748.44,1241.27 L749.93,1238.66 L751.42,1236.05 L752.90,1233.43 L754.37,1230.81 L755.85,1228.19 L757.31,1225.57 L758.77,1222.94 L760.23,1220.31 L761.68,1217.67 L763.13,1215.04 L764.57,1212.40 L766.01,1209.76 L767.44,1207.12 L768.87,1204.47 L770.30,1201.83 L771.72,1199.18 L773.13,1196.52 L774.53,1193.86 L775.88,1191.18 L777.22,1188.48 L778.54,1185.79 L779.87,1183.09 L781.19,1180.39 L782.52,1177.69 L783.85,1174.99 L785.18,1172.30 L786.52,1169.61 L787.88,1166.93 L789.25,1164.25 L790.62,1161.58 L792.00,1158.90 L793.38,1156.23 L794.80,1153.58 L796.26,1150.95 L797.72,1148.33 L799.19,1145.71 L800.66,1143.08 L802.13,1140.46 L803.57,1137.82 L804.96,1135.15 L806.30,1132.47 L807.64,1129.77 L808.98,1127.08 L810.32,1124.39 L811.66,1121.70 L813.00,1119.01 L814.35,1116.32 L815.69,1113.63 L817.04,1110.95 L818.39,1108.26 L819.74,1105.57 L821.09,1102.89 L822.43,1100.19 L823.72,1097.48 L824.96,1094.74 L826.17,1091.99 L827.37,1089.23 L828.58,1086.48 L829.79,1083.73 L830.99,1080.97 L832.20,1078.22 L832.60,1077.30" fill="none" stroke-width="2.9"/>
<path d="M170.80,1630.12 L172.36,1627.55 L173.92,1624.98 L175.49,1622.42 L177.08,1619.87 L178.67,1617.32 L180.28,1614.78 L181.90,1612.25 L183.54,1609.73 L185.18,1607.21 L186.84,1604.70 L188.51,1602.20 L190.19,1599.71 L191.88,1597.23 L193.59,1594.75 L195.31,1592.29 L197.04,1589.83 L198.79,1587.39 L200.55,1584.95 L202.32,1582.52 L204.10,1580.10 L205.90,1577.70 L207.71,1575.30 L209.54,1572.91 L211.38,1570.54 L213.23,1568.17 L215.10,1565.82 L216.98,1563.47 L218.88,1561.14 L220.79,1558.82 L222.71,1556.51 L224.65,1554.21 L226.60,1551.93 L228.57,1549.65 L230.55,1547.39 L232.55,1545.15 L234.56,1542.91 L236.58,1540.69 L238.62,1538.48 L240.67,1536.29 L242.74,1534.10 L244.82,1531.94 L246.92,1529.78 L249.03,1527.64 L251.15,1525.52 L253.29,1523.40 L255.44,1521.31 L257.61,1519.22 L259.79,1517.15 L261.98,1515.10 L264.19,1513.06 L266.41,1511.03 L268.64,1509.02 L270.89,1507.03 L273.15,1505.05 L275.42,1503.08 L277.71,1501.13 L280.01,1499.19 L282.31,1497.27 L284.64,1495.36 L286.97,1493.46 L289.32,1491.59 L291.68,1489.72 L294.05,1487.88 L296.43,1486.05 L298.83,1484.24 L301.24,1482.43 L303.65,1480.65 L306.08,1478.87 L308.52,1477.12 L310.98,1475.39 L313.45,1473.69 L315.94,1472.01 L318.45,1470.35 L320.97,1468.72 L323.52,1467.11 L326.07,1465.53 L328.65,1463.98 L331.24,1462.47 L333.86,1460.98 L336.49,1459.53 L339.14,1458.11 L341.81,1456.73 L344.50,1455.39 L347.20,1454.08 L349.93,1452.81 L352.67,1451.58 L355.42,1450.38 L358.20,1449.22 L360.98,1448.09 L363.78,1447.00 L366.59,1445.94 L369.42,1444.91 L372.25,1443.91 L375.10,1442.94 L377.95,1442.00 L380.81,1441.08 L383.68,1440.20 L386.56,1439.34 L389.45,1438.50 L392.34,1437.68 L395.24,1436.88 L398.14,1436.10 L401.05,1435.34 L403.96,1434.59 L406.88,1433.86 L409.79,1433.14 L412.71,1432.42 L415.63,1431.72 L418.56,1431.02 L421.48,1430.32 L424.41,1429.63 L427.33,1428.93 L430.25,1428.24 L433.18,1427.54 L436.10,1426.83 L439.02,1426.12 L441.94,1425.40 L444.85,1424.66 L447.76,1423.92 L450.67,1423.15 L453.57,1422.38 L456.47,1421.58 L459.36,1420.76 L462.25,1419.92 L465.13,1419.06 L468.00,1418.17 L470.86,1417.26 L473.72,1416.32 L476.57,1415.37 L479.42,1414.43 L482.28,1413.49 L485.14,1412.57 L488.01,1411.69 L490.90,1410.85 L493.80,1410.06 L496.71,1409.32 L499.63,1408.62 L502.57,1407.97 L505.51,1407.37 L508.46,1406.80 L511.42,1406.28 L514.39,1405.78 L517.36,1405.31 L520.33,1404.87 L523.30,1404.46 L526.28,1404.06 L529.27,1403.68 L532.25,1403.30 L535.23,1402.94 L538.22,1402.58 L541.20,1402.22 L544.18,1401.86 L547.17,1401.49 L550.15,1401.11 L553.13,1400.71 L556.10,1400.30 L559.08,1399.87 L562.05,1399.42 L565.02,1398.94 L567.98,1398.44 L570.94,1397.92 L573.89,1397.36 L576.84,1396.77 L579.78,1396.14 L582.71,1395.49 L585.64,1394.79 L588.55,1394.06 L591.45,1393.28 L594.35,1392.47 L597.23,1391.61 L600.09,1390.71 L602.95,1389.76 L605.78,1388.77 L608.60,1387.73 L611.41,1386.65 L614.19,1385.51 L616.95,1384.33 L619.70,1383.11 L622.42,1381.83 L625.11,1380.50 L627.79,1379.13 L630.44,1377.71 L633.06,1376.25 L635.66,1374.74 L638.23,1373.18 L640.77,1371.58 L643.29,1369.93 L645.77,1368.25 L648.23,1366.52 L650.66,1364.75 L653.06,1362.94 L655.43,1361.09 L657.77,1359.21 L660.08,1357.29 L662.36,1355.33 L664.62,1353.34 L666.84,1351.32 L669.03,1349.27 L671.20,1347.18 L673.34,1345.07 L675.45,1342.93 L677.54,1340.77 L679.60,1338.58 L681.63,1336.37 L683.65,1334.14 L685.64,1331.89 L687.60,1329.61 L689.55,1327.32 L691.47,1325.01 L693.37,1322.69 L695.26,1320.34 L697.12,1317.98 L698.96,1315.61 L700.79,1313.23 L702.60,1310.82 L704.39,1308.41 L706.16,1305.99 L707.92,1303.55 L709.66,1301.10 L711.39,1298.64 L713.10,1296.17 L714.80,1293.69 L716.48,1291.20 L718.16,1288.70 L719.82,1286.19 L721.46,1283.68 L723.10,1281.16 L724.72,1278.63 L726.34,1276.09 L727.94,1273.55 L729.53,1271.00 L731.12,1268.45 L732.69,1265.89 L734.26,1263.32 L735.81,1260.75 L737.36,1258.18 L738.90,1255.60 L740.44,1253.01 L741.96,1250.42 L743.48,1247.83 L745.00,1245.23 L746.50,1242.63 L748.00,1240.03 L749.50,1237.42 L750.98,1234.81 L752.47,1232.19 L753.94,1229.58 L755.42,1226.96 L756.88,1224.33 L758.35,1221.71 L759.80,1219.08 L761.26,1216.45 L762.70,1213.81 L764.15,1211.18 L765.59,1208.54 L767.02,1205.90 L768.45,1203.25 L769.84,1200.59 L771.10,1197.87 L772.20,1195.08 L773.25,1192.26 L774.30,1189.44 L775.34,1186.63 L776.39,1183.81 L777.43,1180.99 L778.47,1178.17 L779.52,1175.35 L780.58,1172.54 L781.73,1169.77 L783.02,1167.06 L784.38,1164.38 L785.76,1161.71 L787.13,1159.03 L788.50,1156.36 L789.85,1153.68 L791.20,1150.99 L792.53,1148.30 L793.87,1145.61 L795.21,1142.91 L796.55,1140.22 L797.88,1137.53 L799.17,1134.81 L800.41,1132.08 L801.61,1129.32 L802.82,1126.57 L804.02,1123.82 L805.23,1121.06 L806.43,1118.31 L807.63,1115.55 L808.81,1112.79 L809.95,1110.01 L811.06,1107.21 L812.17,1104.42 L813.28,1101.63 L814.39,1098.84 L815.50,1096.04 L816.61,1093.25 L817.73,1090.46 L818.88,1087.68 L820.07,1084.92 L821.27,1082.17 L822.47,1079.41 L823.68,1076.66 L824.88,1073.91 L826.08,1071.15 L827.29,1068.40 L828.49,1065.64 L829.69,1062.89 L830.90,1060.14 L831.70,1058.30" fill="none" stroke-width="2.9"/>
<ellipse cx="887.00" cy="130.85" rx="2.70" ry="3.45" fill="none" stroke="#000" stroke-width="2.1"/>
<ellipse cx="884.85" cy="398.15" rx="2.95" ry="3.65" fill="none" stroke="#000" stroke-width="2.1"/>
<ellipse cx="888.25" cy="550.60" rx="2.95" ry="3.70" fill="none" stroke="#000" stroke-width="2.1"/>
<ellipse cx="881.90" cy="633.35" rx="2.90" ry="3.45" fill="none" stroke="#000" stroke-width="2.1"/>
<ellipse cx="873.60" cy="1043.85" rx="2.70" ry="2.45" fill="none" stroke="#000" stroke-width="2.1"/>
<ellipse cx="876.05" cy="1111.45" rx="2.75" ry="2.95" fill="none" stroke="#000" stroke-width="2.1"/>
<ellipse cx="878.50" cy="1188.65" rx="2.70" ry="3.15" fill="none" stroke="#000" stroke-width="2.1"/>
<ellipse cx="868.45" cy="1265.65" rx="2.95" ry="3.15" fill="none" stroke="#000" stroke-width="2.1"/>
</g>
<g fill="#000" stroke="none">
<text x="0" y="0" transform="translate(97.67,18.25) scale(1.04,1)" text-anchor="end" font-size="21.6" font-weight="bold">40.0</text>
<text x="0" y="0" transform="translate(96.88,175.50) scale(1.04,1)" text-anchor="end" font-size="21.6" font-weight="bold">30.0</text>
<text x="0" y="0" transform="translate(96.08,334.25) scale(1.04,1)" text-anchor="end" font-size="21.6" font-weight="bold">20.0</text>
<text x="0" y="0" transform="translate(95.29,493.00) scale(1.04,1)" text-anchor="end" font-size="21.6" font-weight="bold">10.0</text>
<text x="0" y="0" transform="translate(94.49,651.75) scale(1.04,1)" text-anchor="end" font-size="21.6" font-weight="bold">0.0</text>
<text x="0" y="0" transform="translate(93.70,811.30) scale(1.04,1)" text-anchor="end" font-size="21.6" font-weight="bold">-10.0</text>
<text x="0" y="0" transform="translate(96.06,942.00) scale(1.04,1)" text-anchor="end" font-size="21.6" font-weight="bold">3.0</text>
<text x="0" y="0" transform="translate(95.11,1100.56) scale(1.04,1)" text-anchor="end" font-size="21.6" font-weight="bold">2.0</text>
<text x="0" y="0" transform="translate(94.15,1259.12) scale(1.04,1)" text-anchor="end" font-size="21.6" font-weight="bold">1.0</text>
<text x="0" y="0" transform="translate(93.20,1417.68) scale(1.04,1)" text-anchor="end" font-size="21.6" font-weight="bold">0.0</text>
<text x="0" y="0" transform="translate(92.25,1577.24) scale(1.04,1)" text-anchor="end" font-size="21.6" font-weight="bold">-1.0</text>
<text x="0" y="0" transform="translate(91.30,1736.80) scale(1.04,1)" text-anchor="end" font-size="21.6" font-weight="bold">-2.0</text>
<text x="0" y="0" transform="translate(114.56,843.60) scale(1.04,1)" text-anchor="middle" font-size="21.6" font-weight="bold">-1.5</text>
<text x="0" y="0" transform="translate(112.18,1762.20) scale(1.04,1)" text-anchor="middle" font-size="21.6" font-weight="bold">-1.5</text>
<text x="0" y="0" transform="translate(242.11,843.60) scale(1.04,1)" text-anchor="middle" font-size="21.6" font-weight="bold">-1.0</text>
<text x="0" y="0" transform="translate(239.53,1762.20) scale(1.04,1)" text-anchor="middle" font-size="21.6" font-weight="bold">-1.0</text>
<text x="0" y="0" transform="translate(369.66,843.60) scale(1.04,1)" text-anchor="middle" font-size="21.6" font-weight="bold">-0.5</text>
<text x="0" y="0" transform="translate(366.88,1762.20) scale(1.04,1)" text-anchor="middle" font-size="21.6" font-weight="bold">-0.5</text>
<text x="0" y="0" transform="translate(497.21,843.60) scale(1.04,1)" text-anchor="middle" font-size="21.6" font-weight="bold">0.0</text>
<text x="0" y="0" transform="translate(494.23,1762.20) scale(1.04,1)" text-anchor="middle" font-size="21.6" font-weight="bold">0.0</text>
<text x="0" y="0" transform="translate(624.76,843.60) scale(1.04,1)" text-anchor="middle" font-size="21.6" font-weight="bold">0.5</text>
<text x="0" y="0" transform="translate(621.58,1762.20) scale(1.04,1)" text-anchor="middle" font-size="21.6" font-weight="bold">0.5</text>
<text x="0" y="0" transform="translate(752.31,843.60) scale(1.04,1)" text-anchor="middle" font-size="21.6" font-weight="bold">1.0</text>
<text x="0" y="0" transform="translate(748.93,1762.20) scale(1.04,1)" text-anchor="middle" font-size="21.6" font-weight="bold">1.0</text>
<text x="0" y="0" transform="translate(879.86,843.60) scale(1.04,1)" text-anchor="middle" font-size="21.6" font-weight="bold">1.5</text>
<text x="0" y="0" transform="translate(876.28,1762.20) scale(1.04,1)" text-anchor="middle" font-size="21.6" font-weight="bold">1.5</text>
<text transform="translate(471.89,876.89) scale(0.9642,1)" style="font-family:&quot;Liberation Sans&quot;;font-weight:bold" font-size="21.49">V (volts)</text>
<text transform="translate(468.39,1794.51) scale(0.9355,1)" style="font-family:&quot;Liberation Sans&quot;;font-weight:bold" font-size="22.34">V (volts)</text>
<text transform="translate(16.41,458.22) rotate(-90) scale(0.9321,1)" style="font-family:&quot;Liberation Sans&quot;;font-weight:bold" font-size="22.34">J (mA/cm²)</text>
<text transform="translate(26.03,1384.02) rotate(-90) scale(0.9805,1)" style="font-family:&quot;Liberation Sans&quot;;font-weight:bold" font-size="21.28">J (mA/cm²)</text>
<text transform="translate(164.41,78.97) scale(0.9869,1)" style="font-family:&quot;Liberation Serif&quot;;font-weight:normal" font-size="37.78" stroke="#000" stroke-width="0.8">(a)</text>
<text transform="translate(159.64,1005.35) scale(1.0722,1)" style="font-family:&quot;Liberation Serif&quot;;font-weight:normal" font-size="36.44" stroke="#000" stroke-width="0.8">(b)</text>
<text transform="translate(841.36,146.09) scale(0.9270,1)" style="font-family:&quot;Liberation Sans&quot;;font-weight:bold" font-size="30.70">65</text>
<text transform="translate(891.73,146.34) scale(0.9699,1)" style="font-family:&quot;Liberation Sans&quot;;font-weight:bold" font-size="31.41">C</text>
<text transform="translate(837.51,414.60) scale(0.9642,1)" style="font-family:&quot;Liberation Sans&quot;;font-weight:bold" font-size="30.43">45</text>
<text transform="translate(889.76,414.84) scale(0.9721,1)" style="font-family:&quot;Liberation Sans&quot;;font-weight:bold" font-size="30.70">C</text>
<text transform="translate(842.13,565.09) scale(0.9460,1)" style="font-family:&quot;Liberation Sans&quot;;font-weight:bold" font-size="30.70">25</text>
<text transform="translate(893.19,565.34) scale(0.9258,1)" style="font-family:&quot;Liberation Sans&quot;;font-weight:bold" font-size="31.41">C</text>
<text transform="translate(852.83,648.09) scale(0.9312,1)" style="font-family:&quot;Liberation Sans&quot;;font-weight:bold" font-size="31.14">5</text>
<text transform="translate(886.86,648.34) scale(0.9503,1)" style="font-family:&quot;Liberation Sans&quot;;font-weight:bold" font-size="31.41">C</text>
<text transform="translate(828.97,1058.11) scale(0.9682,1)" style="font-family:&quot;Liberation Sans&quot;;font-weight:bold" font-size="29.30">65</text>
<text transform="translate(878.77,1058.35) scale(1.0667,1)" style="font-family:&quot;Liberation Sans&quot;;font-weight:bold" font-size="30.00">C</text>
<text transform="translate(830.92,1126.20) scale(0.9715,1)" style="font-family:&quot;Liberation Sans&quot;;font-weight:bold" font-size="29.71">45</text>
<text transform="translate(881.17,1126.45) scale(1.0667,1)" style="font-family:&quot;Liberation Sans&quot;;font-weight:bold" font-size="30.00">C</text>
<text transform="translate(831.63,1203.11) scale(0.9948,1)" style="font-family:&quot;Liberation Sans&quot;;font-weight:bold" font-size="29.30">25</text>
<text transform="translate(883.66,1203.35) scale(0.9949,1)" style="font-family:&quot;Liberation Sans&quot;;font-weight:bold" font-size="30.00">C</text>
<text transform="translate(841.05,1280.10) scale(0.8413,1)" style="font-family:&quot;Liberation Sans&quot;;font-weight:bold" font-size="29.71">5</text>
<text transform="translate(873.90,1280.35) scale(1.0410,1)" style="font-family:&quot;Liberation Sans&quot;;font-weight:bold" font-size="30.00">C</text>
</g>
</svg>
</div>
</div>
</body></html>
